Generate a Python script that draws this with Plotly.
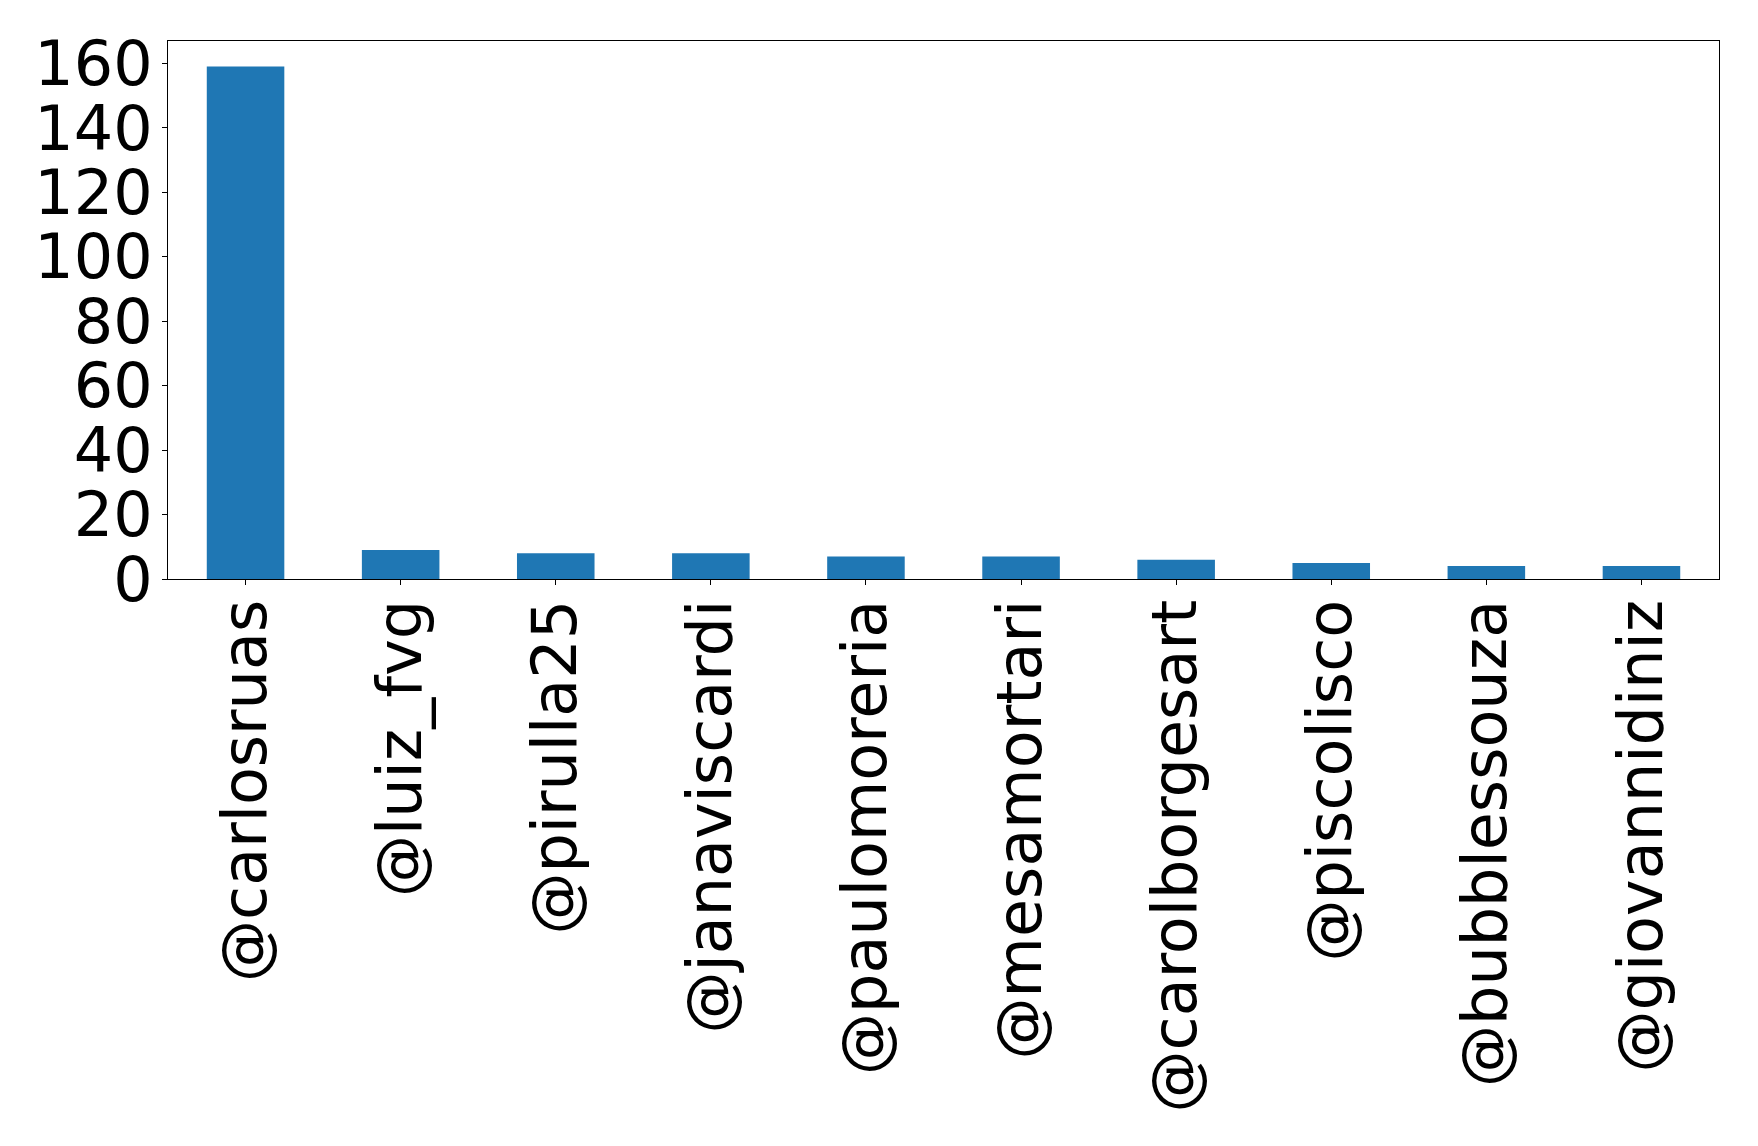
import plotly.graph_objects as go

users = ["@carlosruas", "@luiz_fvg", "@pirulla25", "@janaviscardi", "@paulomoreria",
         "@mesamortari", "@carolborgesart", "@piscolisco", "@bubblessouza", "@giovannidiniz"]
counts = [159, 9, 8, 8, 7, 7, 6, 5, 4, 4]
y_ticks = [0, 20, 40, 60, 80, 100, 120, 140, 160]

fig = go.Figure(go.Bar(x=list(range(len(users))), y=counts, width=0.5,
                       marker=dict(color="#1f77b4", line=dict(width=0))))

fig.update_layout(
    width=1758, height=1146,
    margin=dict(l=160, r=47, t=33, b=575, autoexpand=False),
    paper_bgcolor="white", plot_bgcolor="white",
    font=dict(family="DejaVu Sans", size=62, color="black"),
    showlegend=False,
)
fig.update_xaxes(
    range=[-0.5, len(users) - 0.5],
    tickmode="array", tickvals=list(range(len(users))), ticktext=users,
    tickangle=-90, ticks="outside", ticklen=5, tickwidth=1, tickcolor="black",
    ticklabelstandoff=-10,
    showline=True, linecolor="black", linewidth=1, mirror=True,
    showgrid=False, zeroline=False,
)
fig.update_yaxes(
    range=[0, max(counts) * 1.05],
    tickmode="array", tickvals=y_ticks,
    ticks="outside", ticklen=5, tickwidth=1, tickcolor="black",
    ticklabelstandoff=-3,
    showline=True, linecolor="black", linewidth=1, mirror=True,
    showgrid=False, zeroline=False,
)
fig.write_html("out.html")
